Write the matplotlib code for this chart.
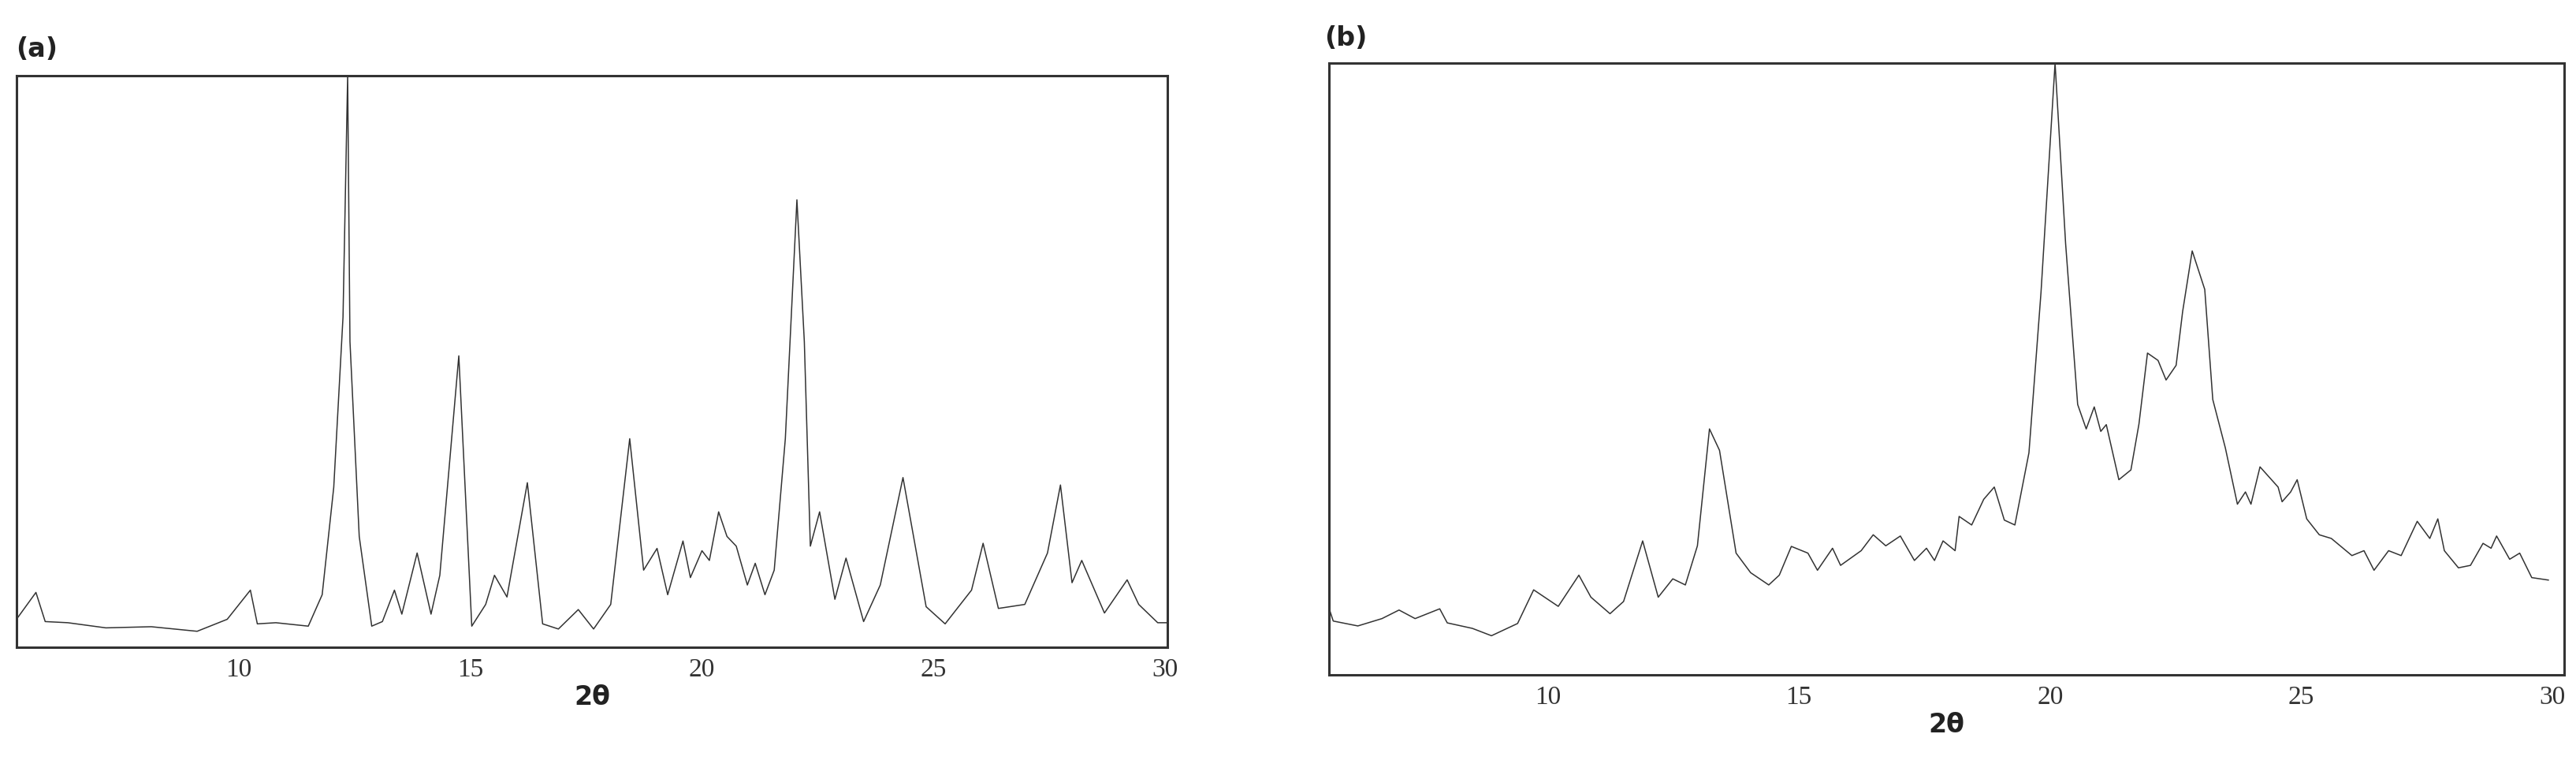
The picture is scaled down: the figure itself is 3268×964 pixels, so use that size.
import matplotlib
matplotlib.use('Agg')
import matplotlib.pyplot as plt

# Panel (a) pattern, 2theta vs relative intensity (%)
theta_a = [5.2, 5.62, 5.82, 6.31, 7.13, 8.11, 9.1, 9.75, 10.25, 10.4, 10.8, 11.5, 11.8, 12.05,
           12.25, 12.35, 12.4, 12.6, 12.87, 13.1, 13.36, 13.52, 13.85, 14.15, 14.34, 14.75,
           15.03, 15.33, 15.52, 15.79, 16.23, 16.56, 16.9, 17.33, 17.66, 18.03, 18.44, 18.74,
           19.03, 19.26, 19.59, 19.75, 20.0, 20.16, 20.36, 20.54, 20.74, 20.98, 21.15, 21.36,
           21.56, 21.8, 22.05, 22.21, 22.34, 22.54, 22.87, 23.11, 23.49, 23.85, 24.34, 24.84,
           25.25, 25.82, 26.07, 26.4, 26.97, 27.46, 27.74, 27.99, 28.2, 28.69, 29.18, 29.43,
           29.84, 30.08]
int_a = [4.9, 9.6, 4.5, 4.3, 3.4, 3.6, 2.8, 4.9, 10.0, 4.1, 4.3, 3.7, 9.2, 28.0,
         57.8, 100.0, 53.5, 19.4, 3.7, 4.5, 10.0, 5.8, 16.5, 5.8, 12.6, 51.0,
         3.7, 7.5, 12.6, 8.8, 28.8, 4.1, 3.2, 6.6, 3.2, 7.5, 36.5, 13.5,
         17.3, 9.2, 18.6, 12.2, 16.9, 15.2, 23.7, 19.4, 17.7, 10.9, 14.7, 9.2,
         13.5, 36.5, 78.3, 53.5, 17.7, 23.7, 8.4, 15.6, 4.5, 10.9, 29.7, 7.1,
         4.1, 10.0, 18.2, 6.8, 7.5, 16.5, 28.4, 11.3, 15.2, 6.0, 11.8, 7.5,
         4.3, 4.3]

# Panel (b) pattern
theta_b = [5.65, 5.73, 6.22, 6.7, 7.04, 7.36, 7.85, 8.0, 8.5, 8.88, 9.4, 9.72, 10.21, 10.62,
           10.86, 11.24, 11.51, 11.89, 12.2, 12.49, 12.74, 12.98, 13.22, 13.42, 13.75, 14.04,
           14.4, 14.61, 14.85, 15.18, 15.37, 15.67, 15.83, 16.24, 16.48, 16.73, 17.02, 17.3,
           17.54, 17.7, 17.87, 18.11, 18.19, 18.44, 18.68, 18.89, 19.09, 19.3, 19.58, 19.82,
           20.1, 20.31, 20.55, 20.72, 20.88, 21.01, 21.12, 21.37, 21.61, 21.77, 21.94, 22.15,
           22.31, 22.51, 22.64, 22.83, 23.08, 23.24, 23.49, 23.73, 23.89, 24.0, 24.18, 24.54,
           24.62, 24.79, 24.92, 25.11, 25.36, 25.6, 26.01, 26.25, 26.45, 26.74, 26.99, 27.31,
           27.56, 27.72, 27.85, 28.13, 28.37, 28.62, 28.78, 28.89, 29.15, 29.35, 29.59, 29.92]
int_b = [10.8, 8.8, 8.0, 9.2, 10.6, 9.2, 10.8, 8.5, 7.6, 6.4, 8.4, 13.9, 11.2, 16.3,
         12.7, 10.0, 12.0, 21.9, 12.7, 15.7, 14.7, 21.1, 40.2, 36.7, 19.9, 16.7,
         14.7, 16.3, 21.0, 19.9, 17.1, 20.7, 17.9, 20.3, 22.9, 21.1, 22.7, 18.7,
         20.7, 18.7, 21.9, 20.3, 25.9, 24.5, 28.7, 30.7, 25.3, 24.5, 36.3, 62.5,
         100.0, 70.5, 44.2, 40.2, 43.8, 39.8, 40.9, 31.9, 33.5, 41.0, 52.6, 51.4,
         48.2, 50.6, 59.4, 69.3, 63.0, 45.0, 37.1, 27.9, 29.9, 27.9, 34.0, 30.7,
         28.3, 29.9, 31.9, 25.5, 22.9, 22.3, 19.5, 20.3, 17.1, 20.3, 19.5, 25.1,
         22.3, 25.5, 20.3, 17.5, 17.9, 21.5, 20.7, 22.7, 18.9, 19.9, 15.9, 15.5]

fig = plt.figure(figsize=(32.68, 9.64), dpi=100)
ax_a = fig.add_axes([0.0064, 0.1483, 0.4468, 0.752])
ax_b = fig.add_axes([0.516, 0.112, 0.4795, 0.805])

panels = [(ax_a, theta_a, int_a, (5.2, 30.05), '(a)', 0.0062, 0.925),
          (ax_b, theta_b, int_b, (5.65, 30.24), '(b)', 0.514, 0.94)]

for ax, x, y, xl, tag, tx, ty in panels:
    ax.plot(x, y, color='#333333', linewidth=1.1)
    ax.set_xlim(*xl)
    ax.set_ylim(0, 100)
    ax.set_yticks([])
    ax.set_xticks([10, 15, 20, 25, 30])
    ax.tick_params(axis='x', length=0, pad=10, labelsize=24)
    for lab in ax.get_xticklabels():
        lab.set_fontfamily('Liberation Serif')
        lab.set_color('#333333')
    for sp in ax.spines.values():
        sp.set_linewidth(2.2)
        sp.set_color('#333333')
    ax.set_xlabel('2θ', fontsize=24, fontweight='bold', labelpad=2, color='#222222')
    fig.text(tx, ty, tag, fontsize=24, fontweight='bold', color='#222222')

fig.savefig('out.png', dpi=100)
